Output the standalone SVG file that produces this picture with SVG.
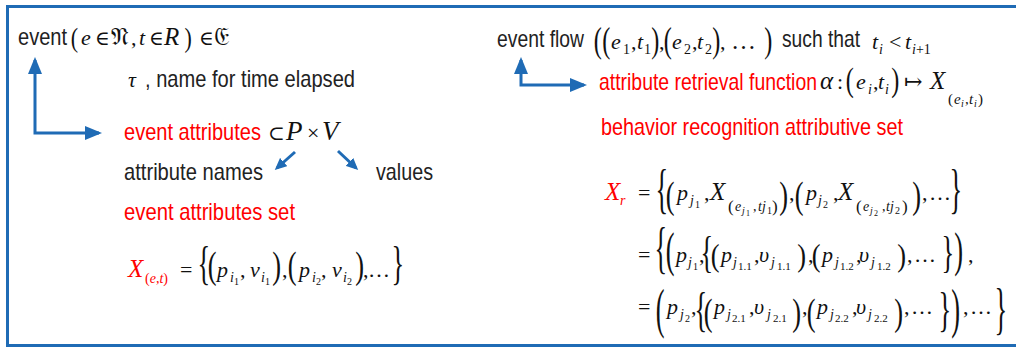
<svg xmlns="http://www.w3.org/2000/svg" width="1016" height="349" viewBox="0 0 1016 349">
<style>
.t{font-family:"Liberation Sans Narrow","Liberation Sans",Arial,sans-serif;font-size:24px;fill:#222}
.red{fill:#f00}
.m{font-family:"Liberation Serif","DejaVu Serif",serif;font-size:22px;fill:#111}
.i{font-style:italic}
.c{font-size:25px}
.s{font-size:14px}
.ss{font-size:10px}
.sd{font-size:11px}
.sss{font-size:8px}
.ln{fill:none;stroke:#1f6bb5;stroke-width:3}
</style>
<defs>
<marker id="ah" markerUnits="userSpaceOnUse" markerWidth="18" markerHeight="14" refX="14" refY="7" orient="auto-start-reverse"><path d="M0,0 L17,7 L0,14 z" fill="#1f6bb5"/></marker>
<marker id="ahs" markerUnits="userSpaceOnUse" markerWidth="13" markerHeight="11" refX="9" refY="5.5" orient="auto"><path d="M0,0 L12,5.5 L0,11 z" fill="#1f6bb5"/></marker>
</defs>
<rect x="7.5" y="6.5" width="1020" height="339" fill="#fff" stroke="#1f6bb5" stroke-width="3"/>
<g id="connectors">
<path class="ln" d="M35,60 L35,133 L99,133" marker-start="url(#ah)" marker-end="url(#ah)"/>
<path class="ln" d="M521,60 L521,85 L584,85" marker-start="url(#ah)" marker-end="url(#ah)"/>
<path class="ln" d="M295,152 L277,168" marker-end="url(#ahs)"/>
<path class="ln" d="M338,151 L356,168" marker-end="url(#ahs)"/>
</g>
<g id="event">
<text class="t" x="18" y="45" textLength="49" lengthAdjust="spacingAndGlyphs">event</text>
<text class="m" transform="translate(70.8,47) scale(1,1.28)">(</text>
<text class="m" transform="translate(184.4,47) scale(1,1.28)">)</text>
<text class="m" y="45"><tspan class="i" x="81">e</tspan><tspan font-size="20" x="95">∈</tspan><tspan class="c" x="111">𝔑</tspan><tspan x="131">,</tspan><tspan class="i" x="139">t</tspan><tspan font-size="20" x="149">∈</tspan><tspan class="i c" x="164">R</tspan><tspan font-size="20" x="199">∈</tspan><tspan class="c" x="214">𝔈</tspan></text>
</g>
<g id="tau">
<text class="m i" x="128" y="87">τ</text>
<text class="t" x="145" y="87" textLength="210" lengthAdjust="spacingAndGlyphs">, name for time elapsed</text>
</g>
<g id="event-attributes">
<text class="t red" x="124" y="140" textLength="137" lengthAdjust="spacingAndGlyphs">event attributes</text>
<text class="m" y="140"><tspan font-size="20" x="268">⊂</tspan><tspan class="i" font-size="27" x="286">P</tspan><tspan x="307">×</tspan><tspan class="i" font-size="27" x="322">V</tspan></text>
</g>
<g id="attribute-names">
<text class="t" x="124" y="180" textLength="139" lengthAdjust="spacingAndGlyphs">attribute names</text>
</g>
<g id="values">
<text class="t" x="376" y="180" textLength="57" lengthAdjust="spacingAndGlyphs">values</text>
</g>
<g id="event-attributes-set">
<text class="t red" x="124" y="220" textLength="171" lengthAdjust="spacingAndGlyphs">event attributes set</text>
<text class="m" transform="translate(197.4,278.9) scale(1.2,2.07)">{</text>
<text class="m" transform="translate(207.7,278.4) scale(1.2,1.7)">(</text>
<text class="m" transform="translate(272.3,278.4) scale(1.2,1.7)">)</text>
<text class="m" transform="translate(287.7,278.4) scale(1.2,1.7)">(</text>
<text class="m" transform="translate(355.3,278.4) scale(1.2,1.7)">)</text>
<text class="m" transform="translate(391.5,278.9) scale(1.2,2.07)">}</text>
<text class="m" y="277"><tspan class="i red c" x="128">X</tspan><tspan class="s red" x="145" y="283">(</tspan><tspan class="s i red">e</tspan><tspan class="s red">,</tspan><tspan class="s i red">t</tspan><tspan class="s red">)</tspan><tspan x="180" y="277">=</tspan><tspan class="i" x="217">p</tspan><tspan class="s i" x="230" y="282">i</tspan><tspan class="ss" x="234" y="285">1</tspan><tspan x="240" y="277">,</tspan><tspan class="i" x="250">v</tspan><tspan class="s i" x="261" y="282">i</tspan><tspan class="ss" x="265" y="285">1</tspan><tspan x="282" y="277">,</tspan><tspan class="i" x="299">p</tspan><tspan class="s i" x="312" y="282">i</tspan><tspan class="ss" x="316" y="285">2</tspan><tspan x="321" y="277">,</tspan><tspan class="i" x="332">v</tspan><tspan class="s i" x="343" y="282">i</tspan><tspan class="ss" x="347" y="285">2</tspan><tspan x="363" y="277">,</tspan><tspan x="368">…</tspan></text>
</g>
<g id="event-flow">
<text class="t" x="497" y="47" textLength="87" lengthAdjust="spacingAndGlyphs">event flow</text>
<text class="m" transform="translate(593.8,51.8) scale(1.1,1.6)">(</text>
<text class="m" transform="translate(602.3,51.8) scale(1.1,1.6)">(</text>
<text class="m" transform="translate(651.3,51.8) scale(1.1,1.6)">)</text>
<text class="m" transform="translate(663.8,51.8) scale(1.1,1.6)">(</text>
<text class="m" transform="translate(712.3,51.8) scale(1.1,1.6)">)</text>
<text class="m" transform="translate(764.3,51.8) scale(1.1,1.6)">)</text>
<text class="m" y="49"><tspan class="i" x="611">e</tspan><tspan class="s" x="623" y="54">1</tspan><tspan x="631" y="49">,</tspan><tspan class="i" x="637">t</tspan><tspan class="s" x="644" y="54">1</tspan><tspan x="659" y="49">,</tspan><tspan class="i" x="672">e</tspan><tspan class="s" x="684" y="54">2</tspan><tspan x="692" y="49">,</tspan><tspan class="i" x="697">t</tspan><tspan class="s" x="705" y="54">2</tspan><tspan x="720" y="49">,</tspan><tspan x="731" font-size="25">…</tspan></text>
<text class="t" x="782" y="47" textLength="78" lengthAdjust="spacingAndGlyphs">such that</text>
<text class="m" y="49"><tspan class="i" x="872">t</tspan><tspan class="s i" x="879" y="54">i</tspan><tspan x="889" y="49">&lt;</tspan><tspan class="i" x="905">t</tspan><tspan class="s" x="912" y="54"><tspan class="i">i</tspan>+1</tspan></text>
</g>
<g id="attribute-retrieval">
<text class="t red" x="599" y="90" textLength="218" lengthAdjust="spacingAndGlyphs">attribute retrieval function</text>
<text class="m" transform="translate(845.8,91) scale(1.1,1.54)">(</text>
<text class="m" transform="translate(891.3,91) scale(1.1,1.54)">)</text>
<text class="m" y="89"><tspan class="i c" x="820">α</tspan><tspan x="837">:</tspan><tspan class="i" x="856">e</tspan><tspan class="s i" x="868" y="94">i</tspan><tspan x="873" y="89">,</tspan><tspan class="i" x="878">t</tspan><tspan class="s i" x="885" y="94">i</tspan><tspan x="904" y="89">↦</tspan><tspan class="i c" x="930">X</tspan><tspan font-size="15" x="948" y="104">(</tspan><tspan font-size="15" class="i" x="954">e</tspan><tspan class="ss i" x="961" y="107">i</tspan><tspan font-size="15" x="965" y="104">,</tspan><tspan font-size="15" class="i" x="969">t</tspan><tspan class="ss i" x="974" y="107">i</tspan><tspan font-size="15" x="978" y="104">)</tspan></text>
</g>
<g id="behavior-set">
<text class="t red" x="601" y="135" textLength="302" lengthAdjust="spacingAndGlyphs">behavior recognition attributive set</text>
</g>
<g id="xr-line1">
<text class="m" transform="translate(655.4,207.2) scale(1.2,2.5)">{</text>
<text class="m" transform="translate(665.7,208.4) scale(1.2,1.7)">(</text>
<text class="m" transform="translate(779.3,208.4) scale(1.2,1.7)">)</text>
<text class="m" transform="translate(794.7,208.4) scale(1.2,1.7)">(</text>
<text class="m" transform="translate(912.3,208.4) scale(1.2,1.7)">)</text>
<text class="m" transform="translate(949.5,207.2) scale(1.2,2.5)">}</text>
<text class="m" y="200"><tspan class="i red c" x="605">X</tspan><tspan class="s i red" x="620" y="205">r</tspan><tspan x="638" y="200">=</tspan><tspan class="i" x="677">p</tspan><tspan class="s i" x="690" y="205">j</tspan><tspan class="ss" x="695" y="208">1</tspan><tspan x="704" y="200">,</tspan><tspan class="i c" x="710">X</tspan><tspan font-size="17" x="728" y="212">(</tspan><tspan class="s i" x="735" y="211">e</tspan><tspan class="ss i" x="742" y="214">j</tspan><tspan class="sss" x="746" y="216">1</tspan><tspan class="s" x="753" y="211">,</tspan><tspan class="s i" x="758">tj</tspan><tspan class="ss" x="767" y="214">1</tspan><tspan font-size="17" x="772" y="212">)</tspan><tspan x="789" y="200">,</tspan><tspan class="i" x="806">p</tspan><tspan class="s i" x="818" y="205">j</tspan><tspan class="ss" x="823" y="208">2</tspan><tspan x="833" y="200">,</tspan><tspan class="i c" x="838">X</tspan><tspan font-size="17" x="856" y="212">(</tspan><tspan class="s i" x="863" y="211">e</tspan><tspan class="ss i" x="870" y="214">j</tspan><tspan class="sss" x="874" y="216">2</tspan><tspan class="s" x="882" y="211">,</tspan><tspan class="s i" x="886">tj</tspan><tspan class="ss" x="895" y="214">2</tspan><tspan font-size="17" x="902" y="212">)</tspan><tspan x="922" y="200">,</tspan><tspan x="929">…</tspan></text>
</g>
<g id="xr-line2">
<text class="m" transform="translate(654.4,266.8) scale(1.2,2.6)">{</text>
<text class="m" transform="translate(665.7,266.3) scale(1.2,2.23)">(</text>
<text class="m" transform="translate(700.4,267.3) scale(1.2,1.97)">{</text>
<text class="m" transform="translate(710.7,266.4) scale(1.2,1.44)">(</text>
<text class="m" transform="translate(797.3,266.4) scale(1.2,1.44)">)</text>
<text class="m" transform="translate(811.7,266.4) scale(1.2,1.44)">(</text>
<text class="m" transform="translate(897.3,266.4) scale(1.2,1.44)">)</text>
<text class="m" transform="translate(941.5,267.3) scale(1.2,1.97)">}</text>
<text class="m" transform="translate(954.3,266.3) scale(1.2,2.23)">)</text>
<text class="m" y="262"><tspan x="638">=</tspan><tspan class="i" x="676">p</tspan><tspan class="s i" x="688" y="267">j</tspan><tspan class="ss" x="693" y="270">1</tspan><tspan x="699" y="262">,</tspan><tspan class="i" x="721">p</tspan><tspan class="s i" x="733" y="267">j</tspan><tspan class="sd" x="738" y="270">1.1</tspan><tspan x="754" y="262">,</tspan><tspan class="i" x="759">υ</tspan><tspan class="s i" x="771" y="267">j</tspan><tspan class="sd" x="777" y="270">1.1</tspan><tspan x="808" y="262">,</tspan><tspan class="i" x="822">p</tspan><tspan class="s i" x="835" y="267">j</tspan><tspan class="sd" x="840" y="270">1.2</tspan><tspan x="856" y="262">,</tspan><tspan class="i" x="859">υ</tspan><tspan class="s i" x="871" y="267">j</tspan><tspan class="sd" x="877" y="270">1.2</tspan><tspan x="907" y="262">,</tspan><tspan x="914">…</tspan><tspan x="968">,</tspan></text>
</g>
<g id="xr-line3">
<text class="m" transform="translate(655.7,327.2) scale(1.2,2.5)">(</text>
<text class="m" transform="translate(694.4,326.3) scale(1.2,2.23)">{</text>
<text class="m" transform="translate(703.7,325.4) scale(1.2,1.7)">(</text>
<text class="m" transform="translate(792.3,325.4) scale(1.2,1.7)">)</text>
<text class="m" transform="translate(806.7,325.4) scale(1.2,1.7)">(</text>
<text class="m" transform="translate(894.3,325.4) scale(1.2,1.7)">)</text>
<text class="m" transform="translate(938.5,326.3) scale(1.2,2.23)">}</text>
<text class="m" transform="translate(951.3,327.2) scale(1.2,2.5)">)</text>
<text class="m" transform="translate(994.5,328) scale(1.2,2.55)">}</text>
<text class="m" y="314"><tspan x="638">=</tspan><tspan class="i" x="667">p</tspan><tspan class="s i" x="680" y="319">j</tspan><tspan class="ss" x="685" y="322">2</tspan><tspan x="691" y="314">,</tspan><tspan class="i" x="714">p</tspan><tspan class="s i" x="727" y="319">j</tspan><tspan class="sd" x="732" y="322">2.1</tspan><tspan x="749" y="314">,</tspan><tspan class="i" x="754">υ</tspan><tspan class="s i" x="767" y="319">j</tspan><tspan class="sd" x="773" y="322">2.1</tspan><tspan x="802" y="314">,</tspan><tspan class="i" x="817">p</tspan><tspan class="s i" x="830" y="319">j</tspan><tspan class="sd" x="835" y="322">2.2</tspan><tspan x="852" y="314">,</tspan><tspan class="i" x="856">υ</tspan><tspan class="s i" x="868" y="319">j</tspan><tspan class="sd" x="874" y="322">2.2</tspan><tspan x="904" y="314">,</tspan><tspan x="911">…</tspan><tspan x="963">,</tspan><tspan x="970">…</tspan></text>
</g>
</svg>
